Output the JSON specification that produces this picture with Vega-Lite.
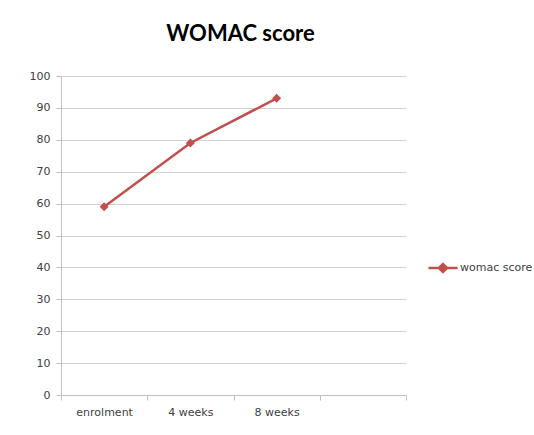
{
  "$schema": "https://vega.github.io/schema/vega-lite/v6.json",
  "width": 345,
  "height": 319,
  "autosize": "none",
  "padding": {"left": 61, "top": 76, "right": 128, "bottom": 40},
  "background": "white",
  "title": {
    "text": "WOMAC score",
    "font": "Lato",
    "fontSize": 22,
    "fontWeight": "bold",
    "color": "#000000",
    "anchor": "middle",
    "dx": 7,
    "offset": 24
  },
  "config": {
    "view": {"stroke": null},
    "font": "DejaVu Sans"
  },
  "data": {
    "values": [
      {"time": "enrolment", "score": 59, "series": "womac score"},
      {"time": "4 weeks", "score": 79, "series": "womac score"},
      {"time": "8 weeks", "score": 93, "series": "womac score"}
    ]
  },
  "encoding": {
    "x": {
      "field": "time",
      "type": "nominal",
      "bandPosition": 0.5,
      "sort": null,
      "scale": {"type": "band", "domain": ["enrolment", "4 weeks", "8 weeks", " "], "paddingInner": 0, "paddingOuter": 0},
      "axis": {
        "title": null,
        "labelAngle": 0,
        "labelFont": "DejaVu Sans",
        "labelFontSize": 11,
        "labelColor": "#404040",
        "labelPadding": 6,
        "tickBand": "extent",
        "tickSize": 5,
        "tickColor": "#BFBFBF",
        "domainColor": "#BFBFBF",
        "grid": false
      }
    },
    "y": {
      "field": "score",
      "type": "quantitative",
      "scale": {"domain": [0, 100]},
      "axis": {
        "title": null,
        "values": [0, 10, 20, 30, 40, 50, 60, 70, 80, 90, 100],
        "labelFont": "DejaVu Sans",
        "labelFontSize": 11,
        "labelColor": "#404040",
        "labelPadding": 6,
        "tickSize": 5,
        "tickColor": "#BFBFBF",
        "domainColor": "#BFBFBF",
        "grid": true,
        "gridColor": "#D4D4D4",
        "gridWidth": 1.2
      }
    },
    "color": {
      "field": "series",
      "type": "nominal",
      "scale": {"range": ["#C0504D"]},
      "legend": {
        "title": null,
        "orient": "none",
        "legendX": 366,
        "legendY": 176,
        "symbolType": "M-1,0H1M-0.28,0L0,-0.28L0.28,0L0,0.28Z",
        "symbolSize": 841,
        "symbolStrokeWidth": 2.5,
        "symbolFillColor": "#C0504D",
        "symbolStrokeColor": "#C0504D",
        "labelFont": "DejaVu Sans",
        "labelFontSize": 11,
        "labelColor": "#404040",
        "labelOffset": 1
      }
    }
  },
  "layer": [
    {"mark": {"type": "line", "strokeWidth": 2.5}},
    {"mark": {"type": "point", "shape": "diamond", "filled": true, "size": 80, "opacity": 1}}
  ]
}
